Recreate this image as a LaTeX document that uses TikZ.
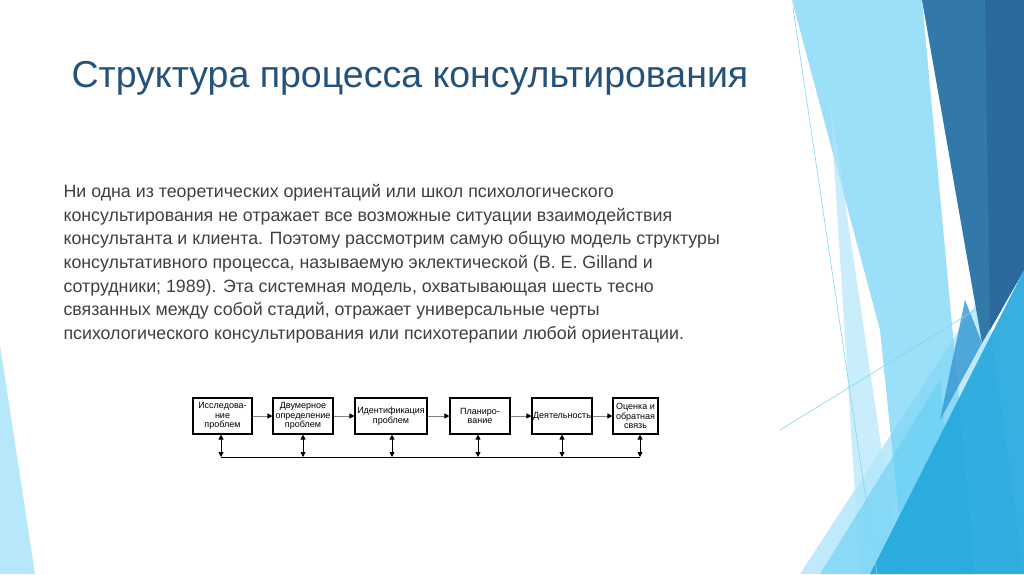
\documentclass[tikz,border=0pt]{standalone}
\usepackage{fontspec}
\setmainfont{Liberation Sans}
\usetikzlibrary{arrows.meta}
\definecolor{ttl}{HTML}{24527A}
\definecolor{bod}{HTML}{404040}
\begin{document}
\begin{tikzpicture}[x=1pt,y=-1pt,
  box/.style={draw=black,line width=1.1pt,fill=white,inner sep=0pt,align=center,font=\fontsize{9}{9.5}\selectfont},
  harr/.style={draw=gray,line width=0.9pt,-{Triangle[length=5pt,width=5pt,fill=black,color=black]}},
  varr/.style={draw=black,line width=0.9pt,{Triangle[length=5pt,width=5pt]}-{Triangle[length=5pt,width=5pt]}}]
\useasboundingbox (0,0) rectangle (1024,574);
\fill[white] (0,0) rectangle (1024,574);
% background decoration
\fill[cyan!35!white,opacity=0.8] (0,345) -- (35,574) -- (0,574) -- cycle;
\fill[cyan!25] (800,574) -- (985,290) -- (1024,574) -- cycle;
\fill[fill=cyan!55,opacity=0.7] (792,0) -- (922,0) -- (975,574) -- (905,574) -- (880,330) -- cycle;
\fill[fill=cyan!30,opacity=0.7] (830,100) -- (900,574) -- (860,574) -- cycle;
\fill[fill=cyan!60,opacity=0.6] (820,574) -- (940,380) -- (960,574) -- cycle;
\fill[fill={rgb,255:red,50;green,121;blue,170}] (922,0) -- (1024,0) -- (1024,270) -- (982,343) -- cycle;
\fill[fill={rgb,255:red,42;green,106;blue,158}] (985,0) -- (1024,0) -- (1024,270) -- (990,330) -- cycle;
\fill[fill={rgb,255:red,34;green,168;blue,220},opacity=0.9] (870,574) -- (1024,270) -- (1024,574) -- cycle;
\fill[fill={rgb,255:red,52;green,150;blue,210},opacity=0.8] (965,300) -- (982,343) -- (940,420) -- cycle;
\draw[cyan!50,line width=0.6pt] (793,8) -- (877,574);
\draw[cyan!50,line width=0.6pt] (780,430) -- (975,310);
% title
\node[anchor=west,text=ttl,font=\fontsize{37.5}{42}\selectfont] (title) at (68,78) {Структура процесса консультирования};
% body
\node[anchor=north west,text=bod,align=left,font=\fontsize{17.8}{23.6}\selectfont] (body) at (60,181) {Ни одна из теоретических ориентаций или школ психологического\\
консультирования не отражает все возможные ситуации взаимодействия\\
консультанта и клиента. Поэтому рассмотрим самую общую модель структуры\\
консультативного процесса, называемую эклектической (В. Е. Gilland и\\
сотрудники; 1989). Эта системная модель, охватывающая шесть тесно\\
связанных между собой стадий, отражает универсальные черты\\
психологического консультирования или психотерапии любой ориентации.};
% diagram
\node[box,minimum width=59pt,minimum height=36pt] (b1) at (222.5,416) {Исследова-\\ние\\проблем};
\node[box,minimum width=60pt,minimum height=36pt] (b2) at (303,416) {Двумерное\\определение\\проблем};
\node[box,minimum width=72pt,minimum height=36pt] (b3) at (391,416) {Идентификация\\проблем};
\node[box,minimum width=60pt,minimum height=36pt] (b4) at (480,416) {Планиро-\\вание};
\node[box,minimum width=60pt,minimum height=36pt] (b5) at (562,416) {Деятельность};
\node[box,minimum width=45pt,minimum height=36pt] (b6) at (635.5,416) {Оценка и\\обратная\\связь};
\draw[harr] (b1) -- (b2);
\draw[harr] (b2) -- (b3);
\draw[harr] (b3) -- (b4);
\draw[harr] (b4) -- (b5);
\draw[harr] (b5) -- (b6);
\coordinate (l1) at (221,457); \coordinate (l2) at (303,457); \coordinate (l3) at (392,457);
\coordinate (l4) at (478,457); \coordinate (l5) at (562,457); \coordinate (l6) at (640,457);
\draw[black,line width=0.9pt] (l1) -- (l6);
\draw[varr] (b1.south -| l1) -- (l1);
\draw[varr] (b2.south -| l2) -- (l2);
\draw[varr] (b3.south -| l3) -- (l3);
\draw[varr] (b4.south -| l4) -- (l4);
\draw[varr] (b5.south -| l5) -- (l5);
\draw[varr] (b6.south -| l6) -- (l6);
\end{tikzpicture}
\end{document}
